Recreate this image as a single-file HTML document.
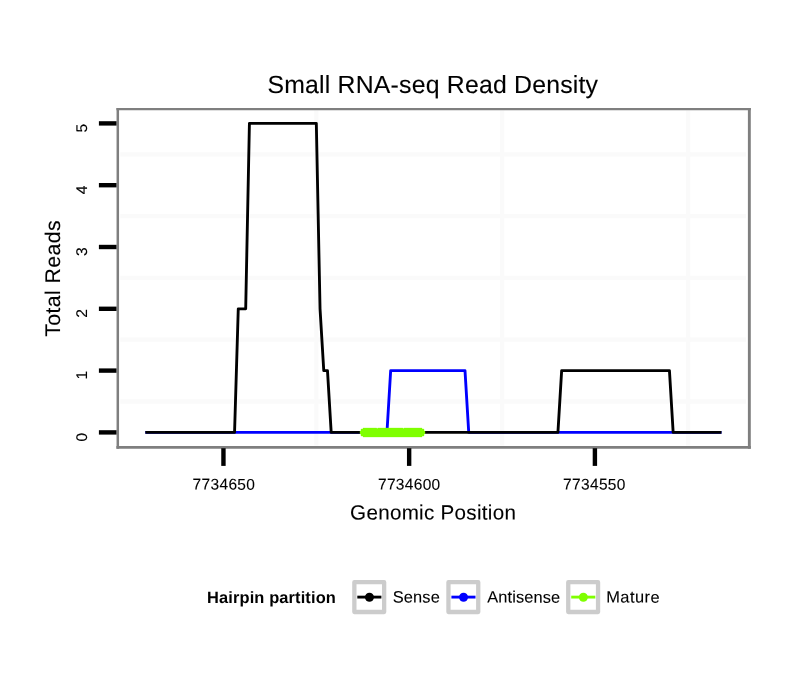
<!DOCTYPE html>
<html lang="en">
<head>
<meta charset="utf-8">
<title>Small RNA-seq Read Density</title>
<style>
html,body{margin:0;padding:0;background:#fff;}
body{width:810px;height:690px;overflow:hidden;}
svg{display:block;}
</style>
</head>
<body>
<svg width="810" height="690" viewBox="0 0 810 690">
<rect width="810" height="690" fill="#ffffff"/>
<g stroke="#fafafa" stroke-width="4.3" fill="none">
<line x1="120.2" x2="746" y1="401.50" y2="401.50"/>
<line x1="120.2" x2="746" y1="339.70" y2="339.70"/>
<line x1="120.2" x2="746" y1="277.90" y2="277.90"/>
<line x1="120.2" x2="746" y1="216.10" y2="216.10"/>
<line x1="120.2" x2="746" y1="154.30" y2="154.30"/>
<line x1="316.32" x2="316.32" y1="110.5" y2="445.6"/>
<line x1="502.18" x2="502.18" y1="110.5" y2="445.6"/>
<line x1="688.02" x2="688.02" y1="110.5" y2="445.6"/>
</g>
<path d="M145.34 432.40 L386.95 432.40 L390.67 370.60 L465.00 370.60 L468.72 432.40 L721.48 432.40" fill="none" stroke="#0000ff" stroke-width="2.85" stroke-linejoin="round"/>
<path d="M145.34 432.40 L234.55 432.40 L238.27 308.80 L245.70 308.80 L249.42 123.40 L316.32 123.40 L320.04 308.80 L323.76 370.60 L327.48 370.60 L331.19 432.40 L557.93 432.40 L561.65 370.60 L669.44 370.60 L673.16 432.40 L721.48 432.40" fill="none" stroke="#000000" stroke-width="2.85" stroke-linejoin="round"/>
<path d="M363 428H376.7L377.2 429L377.7 428H402.9L403.4 429L403.9 428H422V429H424V431H425V434H424V436H422V437H363V436H361V434H360V431H361V429H363Z" fill="#7fff00" stroke="#7fff00" stroke-width="0.3" stroke-linejoin="round"/>
<g stroke="#7f7f7f" fill="none">
<line x1="116.4" x2="750.8" y1="109.1" y2="109.1" stroke-width="2.3"/>
<line x1="116.4" x2="750.8" y1="447.4" y2="447.4" stroke-width="2.9"/>
<line x1="117.8" x2="117.8" y1="108" y2="448.8" stroke-width="2.5"/>
<line x1="749.35" x2="749.35" y1="108" y2="448.8" stroke-width="2.9"/>
</g>
<g stroke="#000" stroke-width="4.4">
<line x1="98.9" x2="116.5" y1="432.40" y2="432.40"/>
<line x1="98.9" x2="116.5" y1="370.60" y2="370.60"/>
<line x1="98.9" x2="116.5" y1="308.80" y2="308.80"/>
<line x1="98.9" x2="116.5" y1="247.00" y2="247.00"/>
<line x1="98.9" x2="116.5" y1="185.20" y2="185.20"/>
<line x1="98.9" x2="116.5" y1="123.40" y2="123.40"/>
<line x1="223.45" x2="223.45" y1="448.2" y2="465.9"/>
<line x1="409.15" x2="409.15" y1="448.2" y2="465.9"/>
<line x1="594.90" x2="594.90" y1="448.2" y2="465.9"/>
</g>
<g font-family="'Liberation Sans', sans-serif" text-rendering="geometricPrecision" fill="#000" stroke="#000" stroke-width="0.1">
<text transform="translate(267.40,92.90) matrix(1 .0006 0 1 0 0)" font-size="24.8" textLength="330.60" lengthAdjust="spacing">Small RNA-seq Read Density</text>
<text transform="translate(87.00,432.75) rotate(-90) matrix(1 .0006 0 1 0 0)" font-size="15.5" text-anchor="end">0</text>
<text transform="translate(87.00,370.95) rotate(-90) matrix(1 .0006 0 1 0 0)" font-size="15.5" text-anchor="end">1</text>
<text transform="translate(87.00,309.15) rotate(-90) matrix(1 .0006 0 1 0 0)" font-size="15.5" text-anchor="end">2</text>
<text transform="translate(87.00,247.35) rotate(-90) matrix(1 .0006 0 1 0 0)" font-size="15.5" text-anchor="end">3</text>
<text transform="translate(87.00,185.55) rotate(-90) matrix(1 .0006 0 1 0 0)" font-size="15.5" text-anchor="end">4</text>
<text transform="translate(87.00,123.75) rotate(-90) matrix(1 .0006 0 1 0 0)" font-size="15.5" text-anchor="end">5</text>
<text transform="translate(192.60,489.60) matrix(1 .0006 0 1 0 0)" font-size="15.5" textLength="62.30" lengthAdjust="spacing">7734650</text>
<text transform="translate(377.95,489.60) matrix(1 .0006 0 1 0 0)" font-size="15.5" textLength="62.30" lengthAdjust="spacing">7734600</text>
<text transform="translate(563.10,489.60) matrix(1 .0006 0 1 0 0)" font-size="15.5" textLength="62.30" lengthAdjust="spacing">7734550</text>
<text transform="translate(350.10,519.40) matrix(1 .0006 0 1 0 0)" font-size="20.6" textLength="165.80" lengthAdjust="spacing">Genomic Position</text>
<text transform="translate(60.00,336.70) rotate(-90) matrix(1 .0006 0 1 0 0)" font-size="21.2" textLength="116.20" lengthAdjust="spacing">Total Reads</text>
<text transform="translate(207.10,602.90) matrix(1 .0006 0 1 0 0)" font-size="16.4" textLength="128.70" lengthAdjust="spacing" font-weight="bold" stroke-width="0">Hairpin partition</text>
<rect x="354.35" y="582.2" width="29.8" height="29.8" fill="#fff" stroke="#cccccc" stroke-width="4.3" stroke-linejoin="round"/>
<line x1="357.3" x2="381.4" y1="597.1" y2="597.1" stroke="#000000" stroke-width="2.85"/>
<circle cx="369.45" cy="597.3" r="4.5" fill="#000000" stroke="none"/>
<text transform="translate(392.80,602.60) matrix(1 .0006 0 1 0 0)" font-size="16.4" textLength="47.00" lengthAdjust="spacing">Sense</text>
<rect x="448.45" y="582.2" width="29.8" height="29.8" fill="#fff" stroke="#cccccc" stroke-width="4.3" stroke-linejoin="round"/>
<line x1="451.4" x2="475.5" y1="597.1" y2="597.1" stroke="#0000ff" stroke-width="2.85"/>
<circle cx="463.55" cy="597.3" r="4.5" fill="#0000ff" stroke="none"/>
<text transform="translate(487.30,602.60) matrix(1 .0006 0 1 0 0)" font-size="16.4" textLength="72.80" lengthAdjust="spacing">Antisense</text>
<rect x="568.25" y="582.2" width="29.8" height="29.8" fill="#fff" stroke="#cccccc" stroke-width="4.3" stroke-linejoin="round"/>
<line x1="571.2" x2="595.3" y1="597.1" y2="597.1" stroke="#7fff00" stroke-width="2.85"/>
<circle cx="583.35" cy="597.3" r="4.5" fill="#7fff00" stroke="none"/>
<text transform="translate(606.20,602.60) matrix(1 .0006 0 1 0 0)" font-size="16.4" textLength="53.50" lengthAdjust="spacing">Mature</text>
</g>
</svg>
</body>
</html>
